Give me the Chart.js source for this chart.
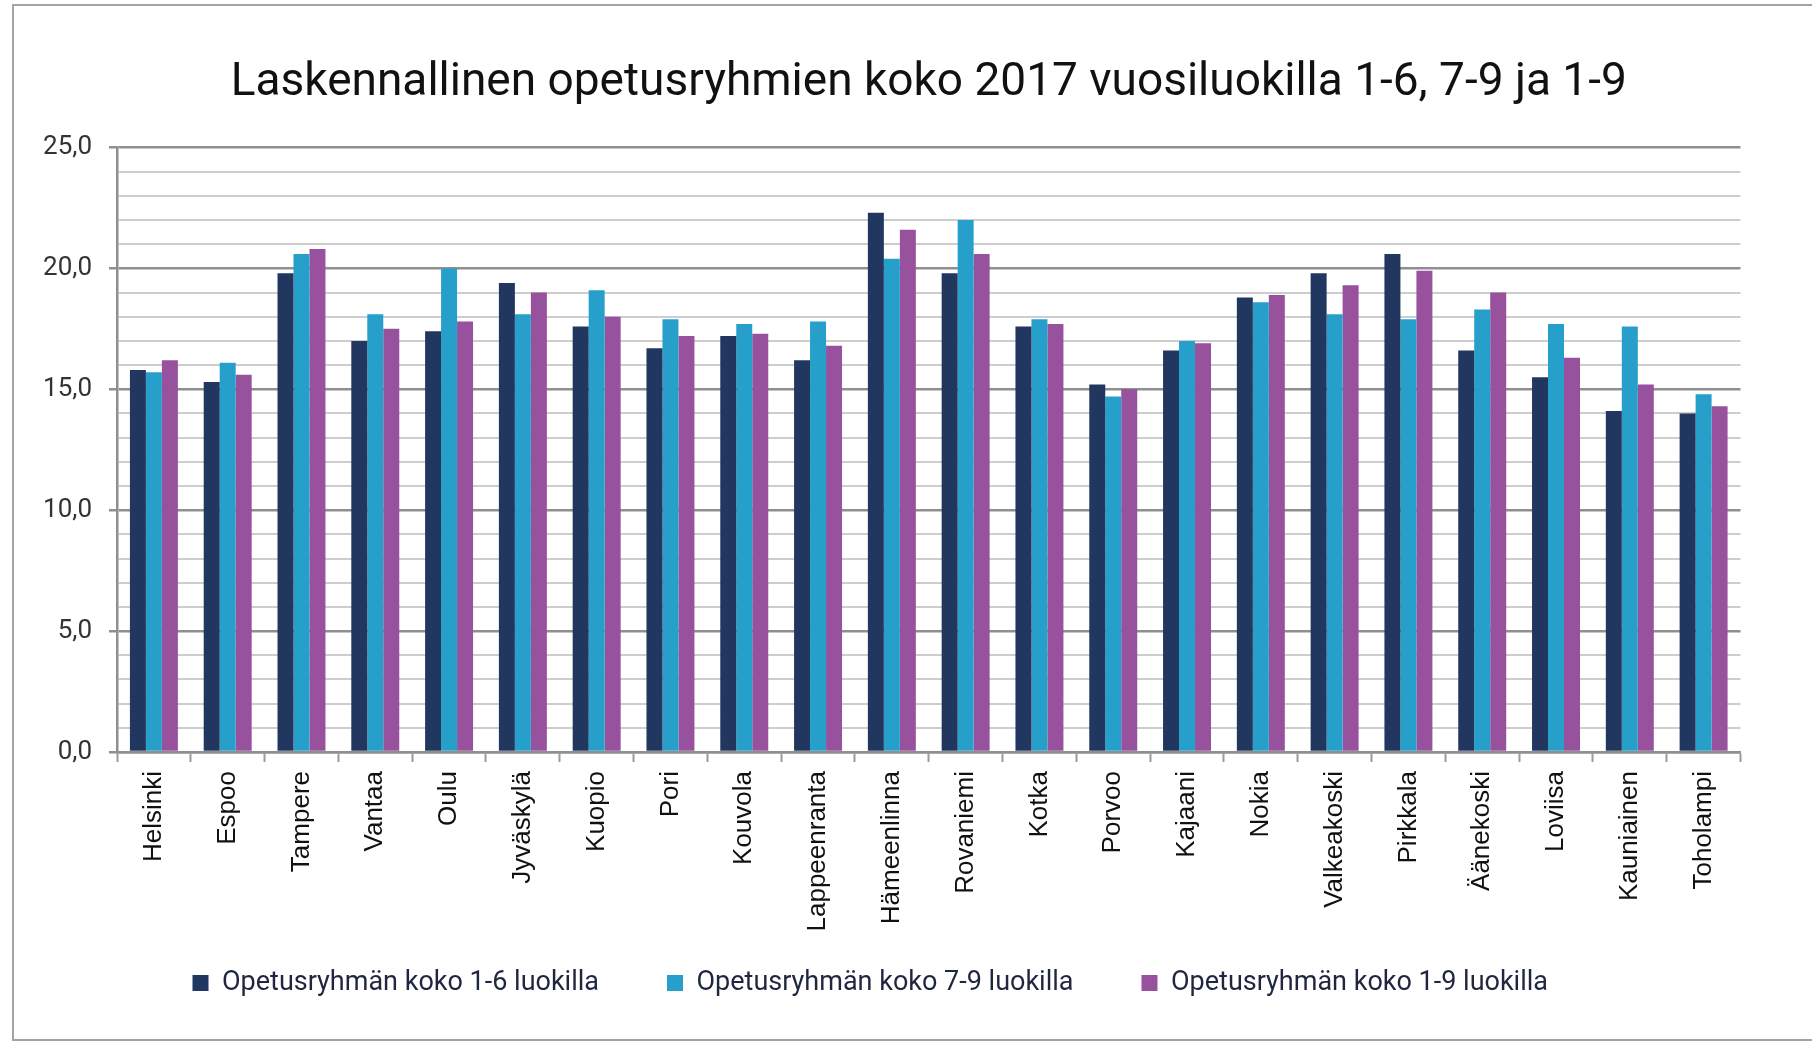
<!DOCTYPE html>
<html>
<head>
<meta charset="utf-8">
<script src="https://cdn.jsdelivr.net/npm/chart.js@4.4.1/dist/chart.umd.min.js"></script>
<style>
  html, body { margin: 0; padding: 0; background: #ffffff; }
  #wrap { position: relative; width: 1812px; height: 1045px; overflow: hidden; background: #fff; }
  #frame { position: absolute; left: 12px; top: 4px; width: 1820px; height: 1037px; border: 2px solid #a3a3a3; box-sizing: border-box; }
  #c { position: absolute; left: 0; top: 0; }
</style>
</head>
<body>
<div id="wrap">
  <div id="frame"></div>
  <canvas id="c" width="1812" height="1045"></canvas>
</div>
<script>
const titleText = 'Laskennallinen opetusryhmien koko 2017 vuosiluokilla 1-6, 7-9 ja 1-9';

const categories = ['Helsinki', 'Espoo', 'Tampere', 'Vantaa', 'Oulu', 'Jyväskylä', 'Kuopio', 'Pori',
  'Kouvola', 'Lappeenranta', 'Hämeenlinna', 'Rovaniemi', 'Kotka', 'Porvoo', 'Kajaani', 'Nokia',
  'Valkeakoski', 'Pirkkala', 'Äänekoski', 'Loviisa', 'Kauniainen', 'Toholampi'];

const seriesNames = ['Opetusryhmän koko 1-6 luokilla', 'Opetusryhmän koko 7-9 luokilla', 'Opetusryhmän koko 1-9 luokilla'];

const grades1to6 = [15.8, 15.3, 19.8, 17.0, 17.4, 19.4, 17.6, 16.7, 17.2, 16.2, 22.3,
  19.8, 17.6, 15.2, 16.6, 18.8, 19.8, 20.6, 16.6, 15.5, 14.1, 14.0];
const grades7to9 = [15.7, 16.1, 20.6, 18.1, 20.0, 18.1, 19.1, 17.9, 17.7, 17.8, 20.4,
  22.0, 17.9, 14.7, 17.0, 18.6, 18.1, 17.9, 18.3, 17.7, 17.6, 14.8];
const grades1to9 = [16.2, 15.6, 20.8, 17.5, 17.8, 19.0, 18.0, 17.2, 17.3, 16.8, 21.6,
  20.6, 17.7, 15.0, 16.9, 18.9, 19.3, 19.9, 19.0, 16.3, 15.2, 14.3];

const yMin = 0;
const yMax = 25;
const yMajorStep = 5;

const colors = ['#22375f', '#26a0ca', '#97519d'];

const data = {
  labels: categories,
  datasets: [grades1to6, grades7to9, grades1to9].map((vals, i) => ({
    label: seriesNames[i],
    data: vals,
    backgroundColor: colors[i],
    borderWidth: 0,
    categoryPercentage: 0.65,
    barPercentage: 1.0
  }))
};

const isMajor = (v) => Math.abs(v % yMajorStep) < 1e-6;

new Chart(document.getElementById('c'), {
  type: 'bar',
  data: data,
  options: {
    responsive: false,
    animation: false,
    devicePixelRatio: 1,
    layout: { padding: { left: 0, right: 71.5, top: 0, bottom: 38.5 } },
    plugins: {
      tooltip: { enabled: false },
      title: {
        display: true,
        fullSize: false,
        text: titleText,
        color: '#111111',
        font: { family: 'Roboto', size: 46, weight: 'normal', lineHeight: 1.2 },
        padding: { top: 56, bottom: 36.3 }
      },
      legend: {
        display: true,
        position: 'bottom',
        align: 'center',
        labels: {
          color: '#1f2640',
          font: { family: 'Roboto', size: 27, weight: 'normal' },
          boxWidth: 16,
          boxHeight: 16,
          padding: 68
        }
      }
    },
    scales: {
      x: {
        offset: true,
        grid: {
          display: true,
          offset: true,
          drawOnChartArea: false,
          drawTicks: true,
          tickLength: 10,
          tickWidth: 2,
          tickColor: '#9a9a9a'
        },
        border: { display: true, color: '#8f8f8f', width: 2.5 },
        ticks: {
          autoSkip: false,
          minRotation: 90,
          maxRotation: 90,
          padding: 9,
          color: '#111111',
          font: { family: 'Liberation Sans', size: 26 }
        },
        afterFit: (scale) => {
          scale.height = 149.5;
          scale._computeLabelArea = () => undefined;
        }
      },
      y: {
        min: yMin,
        max: yMax,
        ticks: {
          autoSkip: false,
          stepSize: 1,
          padding: 17,
          color: '#333333',
          font: { family: 'Roboto', size: 26 },
          callback: (v) => isMajor(v) ? Number(v).toFixed(1).replace('.', ',') : ''
        },
        grid: {
          drawTicks: true,
          tickLength: 8,
          color: (ctx) => isMajor(ctx.tick.value) ? '#8f8f8f' : '#cdcdcd',
          lineWidth: (ctx) => isMajor(ctx.tick.value) ? 2.5 : 2,
          tickColor: (ctx) => isMajor(ctx.tick.value) ? '#8f8f8f' : 'rgba(0,0,0,0)',
          tickWidth: 2.5
        },
        border: { display: true, color: '#8f8f8f', width: 2.5 },
        afterFit: (scale) => { scale.width = 117; }
      }
    }
  }
});
</script>
</body>
</html>
